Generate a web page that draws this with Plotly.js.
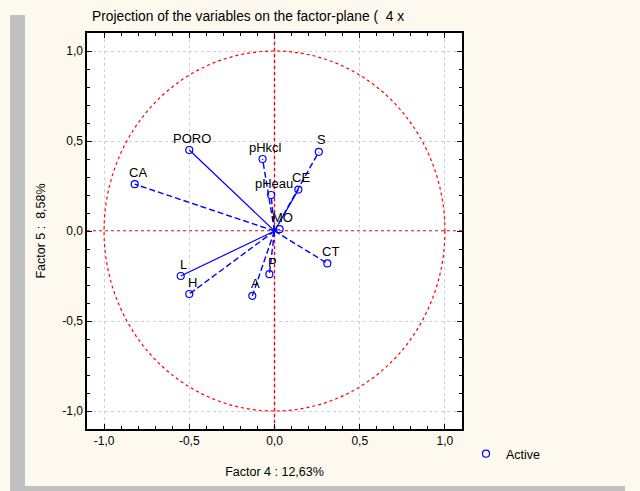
<!DOCTYPE html>
<html>
<head>
<meta charset="utf-8">
<script src="https://cdn.plot.ly/plotly-3.0.1.min.js"></script>
<style>html,body{margin:0;padding:0;background:#fdf9ee;}#chart{width:640px;height:491px;}</style>
</head>
<body>
<div id="chart"></div>
<script>
// Variables and their coordinates on the factor plane
const variables = ['PORO','CA','pHkcl','S','CE','pHeau','MO','CT','P','A','L','H'];
const factor4 = [-0.50,-0.82,-0.07,0.26,0.14,-0.02,0.03,0.31,-0.03,-0.13,-0.55,-0.50];
const factor5 = [0.45,0.26,0.40,0.44,0.23,0.20,0.01,-0.18,-0.24,-0.36,-0.25,-0.35];
const solidVariables = ['PORO','CE','MO','L'];
const tickValues = [-1,-0.5,0,0.5,1];
const tickLabels = ['-1,0','-0,5','0,0','0,5','1,0'];

const BLUE = '#0000ff';
const RED = '#ff0000';
const FONT = 'Liberation Sans, Arial, sans-serif';

function segments(filterFn){
  const xs=[], ys=[];
  variables.forEach((v,i)=>{
    if(filterFn(v)){ xs.push(0, factor4[i], null); ys.push(0, factor5[i], null); }
  });
  return {xs, ys};
}
const solid = segments(v=>solidVariables.includes(v));
const dashed = segments(v=>!solidVariables.includes(v));

const traces = [
  {x: dashed.xs, y: dashed.ys, mode:'lines', type:'scatter', showlegend:false, hoverinfo:'skip',
   line:{color:BLUE, width:1.4, dash:'6px,3px'}},
  {x: solid.xs, y: solid.ys, mode:'lines', type:'scatter', showlegend:false, hoverinfo:'skip',
   line:{color:BLUE, width:1.2}},
  {x: factor4, y: factor5, mode:'markers', type:'scatter', name:'Active',
   marker:{symbol:'circle-open', size:7, color:BLUE, line:{width:1.2, color:BLUE}}}
];

const labelAnnotations = variables.map((v,i)=>({
  x: factor4[i], y: factor5[i], xref:'x', yref:'y', text: v, showarrow:false,
  xshift: 3, yshift: 12, font:{family:FONT, size:13, color:'#000'}
}));

const axisCommon = {
  range:[-1.1,1.1], tickmode:'array', tickvals:tickValues, ticktext:tickLabels,
  ticks:'inside', ticklen:5, tickcolor:'#000', tickwidth:1,
  showline:true, linecolor:'#000', linewidth:1.6, mirror:'allticks',
  showgrid:true, gridcolor:'#cfcfcf', griddash:'dot', gridwidth:1,
  zeroline:false, fixedrange:true,
  minor:{dtick:0.1, tick0:0, ticks:'inside', ticklen:3, tickcolor:'#000', showgrid:false},
  tickfont:{family:FONT, size:12, color:'#000'}
};

const px = (p)=> (p-87)/375;   // helper converting page x to paper
const py = (p)=> (429-p)/396;  // helper converting page y to paper

const layout = {
  width:640, height:491,
  margin:{l:87, r:178, t:33, b:62},
  paper_bgcolor:'#fdf9ee', plot_bgcolor:'#ffffff',
  font:{family:FONT, size:12, color:'#000'},
  title:{text:'Projection of the variables on the factor-plane (  4 x', x:92/640, xanchor:'left', xref:'container',
         y:1-16/491, yanchor:'middle', yref:'container', font:{size:13.8, color:'#000'}},
  xaxis:Object.assign({}, axisCommon, {title:{text:'Factor 4 : 12,63%', standoff:20, font:{size:12.5}}}),
  yaxis:Object.assign({}, axisCommon, {title:{text:'Factor 5 :  8,58%', standoff:14, font:{size:12.5}}}),
  showlegend:true,
  legend:{x:px(466), y:py(454), xanchor:'left', yanchor:'middle', bgcolor:'rgba(0,0,0,0)',
          font:{size:12.5, color:'#000'}, itemwidth:30},
  annotations: labelAnnotations,
  shapes:[
    {type:'rect', xref:'paper', yref:'paper', x0:px(10), x1:px(25), y0:py(15), y1:py(491), fillcolor:'#c0c0c0', line:{width:0}, layer:'below'},
    {type:'rect', xref:'paper', yref:'paper', x0:px(10), x1:px(625), y0:py(486), y1:py(491), fillcolor:'#c0c0c0', line:{width:0}, layer:'below'},
    {type:'circle', xref:'x', yref:'y', x0:-1, x1:1, y0:-1, y1:1, line:{color:RED, width:1.2, dash:'dot'}, layer:'above'},
    {type:'line', xref:'x', yref:'paper', x0:0, x1:0, y0:0, y1:1, line:{color:RED, width:1.4, dash:'dot'}, layer:'below'},
    {type:'line', xref:'paper', yref:'y', x0:0, x1:1, y0:0, y1:0, line:{color:RED, width:1.4, dash:'dot'}, layer:'below'}
  ]
};

Plotly.newPlot('chart', traces, layout, {displayModeBar:false, staticPlot:true});
</script>
</body>
</html>
